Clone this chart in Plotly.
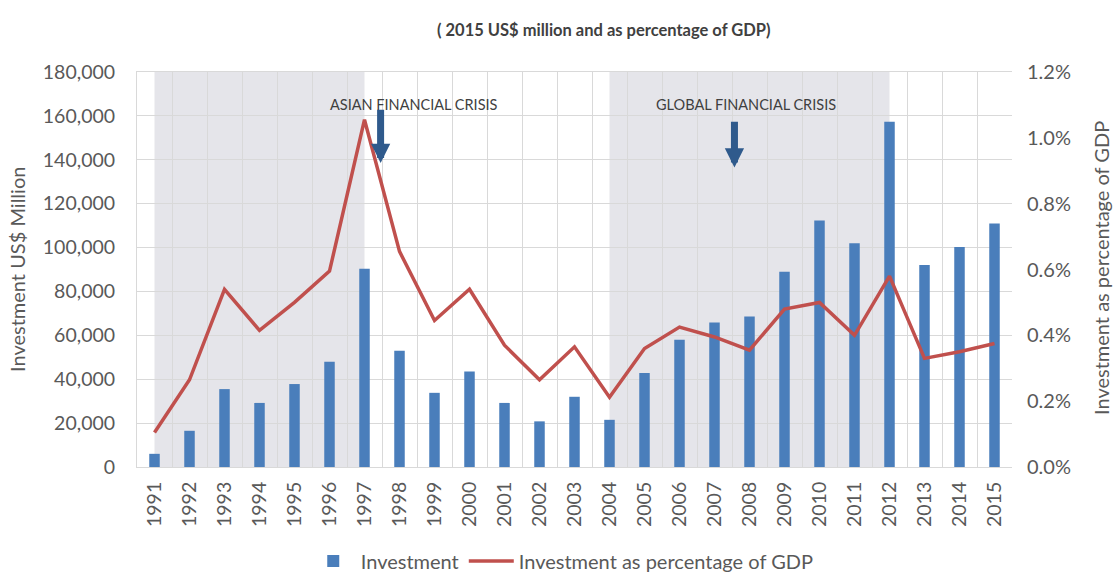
import plotly.graph_objects as go
from plotly.subplots import make_subplots

years = list(range(1991, 2016))
investment = [6000, 16500, 35500, 29200, 37800, 48000, 90300, 53000, 33800, 43500,
              29200, 20800, 32000, 21500, 42800, 58000, 65800, 68600, 89000, 112300,
              102000, 157300, 92000, 100300, 111000]
pct_gdp = [0.105, 0.265, 0.54, 0.415, 0.50, 0.595, 1.055, 0.655, 0.445, 0.54,
           0.37, 0.265, 0.365, 0.212, 0.36, 0.425, 0.395, 0.355, 0.48, 0.50,
           0.40, 0.58, 0.33, 0.35, 0.375]
shade_periods = [(1991, 1997), (2004, 2012)]
crises = [("ASIAN FINANCIAL CRISIS", 1998.4, 1997.46, 163500, 138500),
          ("GLOBAL FINANCIAL CRISIS", 2007.9, 2007.57, 158000, 136500)]

FONT = "Lato"
GREY = "#595959"
GRID = "#d9d9d9"

fig = make_subplots(specs=[[{"secondary_y": True}]])
fig.add_trace(go.Bar(x=years, y=investment, name="Investment",
                     marker=dict(color="#4a7ebb", line=dict(width=0)), width=0.3),
              secondary_y=False)
fig.add_trace(go.Scatter(x=years, y=pct_gdp, name="Investment as percentage of GDP",
                         mode="lines", line=dict(color="#c0504d", width=3.5)),
              secondary_y=True)

for x0, x1 in shade_periods:
    fig.add_shape(type="rect", xref="x", yref="paper", x0=x0, x1=x1, y0=0, y1=1,
                  fillcolor="#e5e5ea", line=dict(width=0), layer="between")

for text, tx, ax_x, y_tail, y_head in crises:
    fig.add_annotation(x=ax_x, y=y_head, ax=ax_x, ay=y_tail, xref="x", yref="y",
                       axref="x", ayref="y", showarrow=True, arrowhead=2,
                       arrowsize=0.55, arrowwidth=7, arrowcolor="#2f5a8c", text="")
    fig.add_annotation(x=tx, y=165000, xref="x", yref="y", text=text, showarrow=False,
                       font=dict(family=FONT, size=14.5, color="#3f3f3f"))

# axis titles placed as annotations
fig.add_annotation(text="Investment US$ Million", xref="paper", yref="paper",
                   x=(17 - 137) / 875, y=(467 - 270) / 395, textangle=-90,
                   xanchor="center", yanchor="middle",
                   showarrow=False, font=dict(family=FONT, size=20, color=GREY))
fig.add_annotation(text="Investment as percentage of GDP", xref="paper", yref="paper",
                   x=(1101 - 137) / 875, y=(467 - 268) / 395, textangle=-90,
                   xanchor="center", yanchor="middle",
                   showarrow=False, font=dict(family=FONT, size=20, color=GREY))

fig.update_layout(
    width=1116, height=574, paper_bgcolor="white", plot_bgcolor="white",
    margin=dict(l=137, r=104, t=72, b=107, autoexpand=False),
    font=dict(family=FONT, color=GREY, size=18),
    title=dict(text="<b>( 2015 US$ million and as percentage of GDP)</b>",
               x=0.541, xanchor="center", y=0.948, yanchor="middle",
               font=dict(family=FONT, size=16.5, color="#404040")),
    showlegend=True,
    legend=dict(orientation="h", x=0.486, xanchor="center", y=-0.238, yanchor="middle",
                itemwidth=45, font=dict(family=FONT, size=20, color=GREY)),
    bargap=0.7,
)
fig.update_xaxes(domain=[0, 1], range=[1990.5, 2015.5], tickmode="array", tickvals=years,
                 ticktext=[str(y) for y in years], tickangle=-90, automargin=False,
                 tickfont=dict(size=19.5, color=GREY), showgrid=False, ticklabelstandoff=6,
                 showline=True, linecolor=GRID, mirror=True, ticks="",
                 minor=dict(tickmode="linear", tick0=1990.5, dtick=1, showgrid=True,
                            gridcolor=GRID, gridwidth=1))
fig.update_yaxes(range=[0, 180000], dtick=20000, tickformat=",", showgrid=True,
                 gridcolor=GRID, tickfont=dict(size=19.5, color=GREY), automargin=False,
                 ticklabelstandoff=17,
                 showline=True, linecolor=GRID, zeroline=False, secondary_y=False)
fig.update_yaxes(range=[0, 1.2], dtick=0.2, tickformat=".1f", ticksuffix="%",
                 showgrid=False, tickfont=dict(size=20, color=GREY), automargin=False,
                 ticklabelstandoff=14,
                 zeroline=False, secondary_y=True)

fig.write_html("out.html")
